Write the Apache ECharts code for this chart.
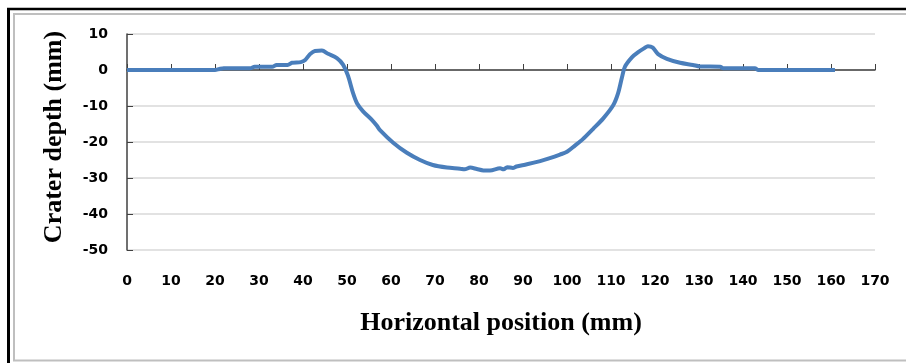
<!DOCTYPE html>
<html>
<head>
  <meta charset="utf-8">
  <title>Crater depth profile</title>
  <script src="https://cdn.jsdelivr.net/npm/echarts@6/dist/echarts.min.js"></script>
  <style>
    body { margin: 0; padding: 0; background: #fff; }
    #main { width: 906px; height: 363px; }
  </style>
</head>
<body>
  <div id="main"></div>
  <script type="text/javascript">
    // horizontal position (mm) and crater depth (mm)
    var posMm = [0, 5, 10, 15, 20, 21, 22, 28, 29, 33, 34, 36.5, 37.5, 39.5, 40.5, 41.6, 42.7, 44.3, 45.7, 47.7,
      49.1, 50.2, 51.4, 52.3, 53.6, 55.7, 56.8, 57.5, 60.5, 63.6, 66.6, 69.5, 72.7, 75.7, 76.7, 78, 79.5, 81,
      82.5, 84.8, 85.6, 86.4, 87.7, 88.5, 90.9, 93.9, 96.1, 98.4, 100, 101.8, 103.6, 105.9, 108.2, 110.5, 111.6,
      112.5, 113.2, 114.8, 116.1, 117.5, 118.4, 119.5, 120.7, 122.7, 125.7, 128.6, 130.2, 134.8, 135.5, 142.7,
      143.4, 150, 155, 160.9];
    var depthMm = [0, 0, 0, 0, 0, 0.3, 0.5, 0.5, 0.9, 0.9, 1.4, 1.4, 2, 2.2, 2.8, 4.4, 5.3, 5.4, 4.5, 3.3,
      1.5, -1.5, -6.5, -9.3, -11.4, -13.9, -15.5, -16.7, -20.2, -23, -25, -26.4, -27.1, -27.4, -27.6, -27.1, -27.5, -27.9,
      -27.9, -27.3, -27.6, -27, -27.2, -26.8, -26.2, -25.3, -24.5, -23.5, -22.7, -21, -19.2, -16.4, -13.5, -9.8, -6.5,
      -2, 1, 3.6, 4.9, 6, 6.6, 6.2, 4.4, 3.1, 2, 1.4, 1, 0.9, 0.5, 0.5,
      0, 0, 0, 0];
    var xTicks = { min: 0, max: 170, step: 10 };
    var yTicks = { min: -50, max: 10, step: 10 };

    var pts = [];
    for (var i = 0; i < posMm.length; i++) {
      pts.push([posMm[i], depthMm[i]]);
    }

    var tickFont = { fontFamily: 'DejaVu Sans', fontWeight: 'bold', fontSize: 14, color: '#000' };
    var titleFont = { fontFamily: 'Liberation Serif', fontWeight: 'bold', fontSize: 26, color: '#000' };

    var chart = echarts.init(document.getElementById('main'));
    chart.setOption({
      animation: false,
      backgroundColor: '#fff',
      grid: { left: 127, top: 34, right: 31, bottom: 113 },
      xAxis: {
        type: 'value',
        min: xTicks.min, max: xTicks.max, interval: xTicks.step,
        name: 'Horizontal position (mm)',
        nameLocation: 'middle',
        nameGap: 60,
        nameTextStyle: titleFont,
        axisLine: { show: true, lineStyle: { color: '#404040', width: 1.5 } },
        axisTick: { show: true, inside: true, length: 6, lineStyle: { color: '#404040' } },
        axisLabel: Object.assign({ margin: 24 }, tickFont),
        splitLine: { show: false }
      },
      yAxis: {
        type: 'value',
        min: yTicks.min, max: yTicks.max, interval: yTicks.step,
        name: 'Crater depth (mm)',
        nameLocation: 'middle',
        nameGap: 60,
        nameTextStyle: Object.assign({ padding: [0, 0, 0, 10] }, titleFont),
        axisLine: { show: true, onZero: false, lineStyle: { color: '#404040', width: 1.5 } },
        axisTick: { show: true, inside: true, length: 6, lineStyle: { color: '#404040' } },
        axisLabel: Object.assign({ margin: 19 }, tickFont),
        splitLine: { show: true, lineStyle: { color: '#d9d9d9', width: 1.5 } }
      },
      series: [{
        type: 'line',
        data: pts,
        smooth: 0.3,
        showSymbol: false,
        lineStyle: { color: '#4a7ebb', width: 4 },
        itemStyle: { color: '#4a7ebb' }
      }],
      graphic: [
        { type: 'line', shape: { x1: 7, y1: 9, x2: 906, y2: 9 }, style: { stroke: '#000', lineWidth: 2.5 } },
        { type: 'line', shape: { x1: 8.5, y1: 8, x2: 8.5, y2: 363 }, style: { stroke: '#000', lineWidth: 3 } },
        { type: 'line', shape: { x1: 13, y1: 14, x2: 906, y2: 14 }, style: { stroke: '#bfbfbf', lineWidth: 2 } },
        { type: 'line', shape: { x1: 14, y1: 13, x2: 14, y2: 361 }, style: { stroke: '#bfbfbf', lineWidth: 2 } },
        { type: 'line', shape: { x1: 13, y1: 360.5, x2: 906, y2: 360.5 }, style: { stroke: '#bfbfbf', lineWidth: 2 } }
      ]
    });
  </script>
</body>
</html>
